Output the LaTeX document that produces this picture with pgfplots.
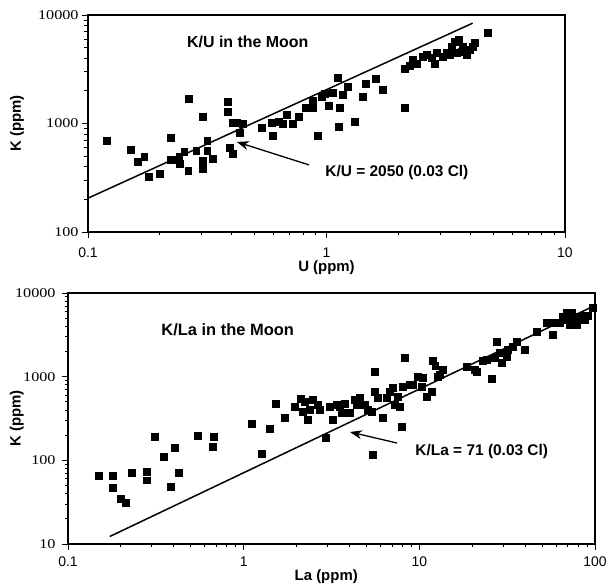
\documentclass[border=0pt]{standalone}
\usepackage{fontspec}
\setmainfont{Liberation Sans}
\newfontfamily\serifnum[FakeStretch=1.2]{Liberation Serif}
\usepackage{pgfplots}
\pgfplotsset{compat=1.18}
\usetikzlibrary{arrows.meta}

\pgfplotsset{
  every axis/.append style={
    scale only axis,
    tick align=outside, tick pos=left,
    major tick length=6bp, minor tick length=3.5bp,
    axis line style={line width=1.2pt},
    every tick/.style={black, line width=0.9pt},
    /pgf/number format/assume math mode=true,
    xticklabel style={font=\fontsize{14}{14}\selectfont},
    yticklabel style={font=\serifnum\fontsize{13.5}{14}\selectfont},
    label style={font=\bfseries\fontsize{15}{15}\selectfont},
  },
}

\begin{document}
\begin{tikzpicture}
\path[use as bounding box] (0,0) rectangle (616bp,585bp);

% K/U
\begin{axis}[
  xmode=log, ymode=log,
  at={(88bp,353bp)}, anchor=south west,
  width=477bp, height=217bp,
  xmin=0.1, xmax=10, ymin=100, ymax=10000,
  xtick={0.1,1,10}, xticklabels={0.1,1,10},
  ytick={100,1000,10000}, yticklabels={100,1000,10000},
  xticklabel style={yshift=-6bp},
  minor xtick={0.2,0.3,0.4,0.5,0.6,0.7,0.8,0.9,2,3,4,5,6,7,8,9},
  minor ytick={200,300,400,500,600,700,800,900,2000,3000,4000,5000,6000,7000,8000,9000},
  xlabel={U (ppm)}, ylabel={K (ppm)},
  xlabel style={at={(axis description cs:0.5,-0.166)}, anchor=center},
  ylabel style={at={(axis description cs:-0.149,0.5)}, anchor=center},
]
\addplot[only marks, mark=square*, mark size=3.4bp, mark options={fill=black, draw=black}] coordinates {
(0.120,690) (0.151,570) (0.162,442) (0.172,491) (0.180,321) (0.200,343)
(0.223,735) (0.223,461) (0.236,461) (0.241,491) (0.243,424) (0.253,546)
(0.263,365) (0.265,1682) (0.284,558) (0.303,1148) (0.303,451) (0.303,381)
(0.316,690) (0.316,558) (0.334,471) (0.386,1578) (0.386,1276) (0.394,594)
(0.405,523) (0.405,1011) (0.421,1011) (0.434,817) (0.447,989) (0.537,909)
(0.591,1011) (0.597,767) (0.632,1032) (0.657,989) (0.683,1198) (0.724,989)
(0.767,1148) (0.820,1390) (0.878,1612) (0.921,767) (0.878,1390) (0.958,1754)
(0.986,1871) (1.024,1449) (1.065,1911) (1.117,2626) (1.140,1390) (1.173,1831)
(1.231,2170) (1.128,929) (1.316,1032) (1.422,1754) (1.465,2312) (1.614,2570)
(1.726,2036) (2.134,3177) (2.134,1390) (2.305,3846) (2.395,3533) (2.540,4100)
(2.638,4276) (2.852,3533) (2.905,4466) (3.079,4100) (3.201,4466) (3.358,5070)
(3.459,5637) (3.524,4466) (3.594,5883) (3.733,5070) (3.882,4276) (4.115,5070)
(4.196,5520) (4.753,6823) (2.239,3388) (2.769,4016) (3.296,4276) (3.700,4560)
(3.997,4757)
};
\addplot[no marks, line width=1.5pt, black] coordinates {(0.1,205) (4.1,8405)};
\node[font=\bfseries\fontsize{16}{16}\selectfont] at (axis description cs:0.335,0.876) {K/U in the Moon};
\draw[line width=1.3pt, -{Stealth[length=12bp,width=9bp]}] (axis cs:0.845,415) -- (axis cs:0.421,676);
\node[anchor=west, font=\bfseries\fontsize{15.5}{16}\selectfont] at (axis cs:0.957,350) {K/U = 2050 (0.03 Cl)};
\end{axis}

% K/La
\begin{axis}[
  xmode=log, ymode=log,
  at={(68bp,41bp)}, anchor=south west,
  width=527bp, height=251bp,
  xmin=0.1, xmax=100, ymin=10, ymax=10000,
  xtick={0.1,1,10,100}, xticklabels={0.1,1,10,100},
  ytick={10,100,1000,10000}, yticklabels={10,100,1000,10000},
  xticklabel style={yshift=-3bp},
  yticklabel style={xshift=-3bp},
  minor xtick={0.2,0.3,0.4,0.5,0.6,0.7,0.8,0.9,2,3,4,5,6,7,8,9,20,30,40,50,60,70,80,90},
  minor ytick={20,30,40,50,60,70,80,90,200,300,400,500,600,700,800,900,2000,3000,4000,5000,6000,7000,8000,9000},
  xlabel={La (ppm)}, ylabel={K (ppm)},
  xlabel style={at={(axis description cs:0.49,-0.131)}, anchor=center},
  ylabel style={at={(axis description cs:-0.097,0.5)}, anchor=center},
]
\addplot[only marks, mark=square*, mark size=3.4bp, mark options={fill=black, draw=black}] coordinates {
(0.150,65) (0.180,65) (0.180,47) (0.200,35) (0.214,31) (0.231,71)
(0.282,73) (0.282,58) (0.313,190) (0.352,110) (0.386,48) (0.406,141)
(0.428,71) (0.550,196) (0.678,190) (0.669,145) (1.115,272) (1.271,119)
(1.412,237) (1.527,472) (1.718,321) (1.959,434) (2.119,542) (2.176,378)
(2.323,304) (2.479,527) (2.649,459) (2.718,400) (2.941,185) (3.099,434)
(3.222,304) (3.396,459) (3.532,434) (3.625,368) (4.027,368) (4.415,459)
(4.592,557) (4.900,459) (5.096,400) (5.375,378) (5.445,116) (5.587,1138)
(5.587,656) (5.809,557) (6.205,321) (6.542,557) (7.080,733) (7.551,572)
(7.760,434) (7.964,251) (8.071,753) (8.279,1672) (8.831,796) (9.204,796)
(9.816,991) (10.35,753) (10.48,964) (11.05,572) (11.80,656) (11.95,1541)
(12.76,991) (13.62,1202) (18.66,1306) (20.71,1202) (21.28,1138) (23.01,1541)
(24.26,1585) (25.89,939) (26.92,1672) (27.65,2600) (28.76,1919) (29.53,1458)
(31.55,1718) (31.93,2084) (34.11,2264) (35.92,2600) (39.90,2084) (46.68,3420)
(53.24,4383) (56.88,4383) (57.54,3149) (63.10,4383) (65.62,5168) (69.18,5768)
(73.91,5768) (74.82,4505) (78.93,4146) (82.08,5029) (87.62,4758) (97.30,6615)
(2.233,499) (2.384,400) (3.776,472) (4.299,527) (6.805,656) (7.261,459)
(67.42,4758) (71.98,4146) (76.87,5168) (85.35,5311) (91.14,5311) (13.0,1050)
(12.3,1350)
};
\addplot[no marks, line width=1.5pt, black] coordinates {(0.173,12.3) (100,7100)};
\node[font=\bfseries\fontsize{16.5}{17}\selectfont] at (axis description cs:0.303,0.853) {K/La in the Moon};
\draw[line width=1.3pt, -{Stealth[length=12bp,width=9bp]}] (axis cs:7.47,161) -- (axis cs:4.03,218);
\node[anchor=west, font=\bfseries\fontsize{15.5}{16}\selectfont] at (axis cs:9.08,126) {K/La = 71 (0.03 Cl)};
\end{axis}
\end{tikzpicture}
\end{document}
